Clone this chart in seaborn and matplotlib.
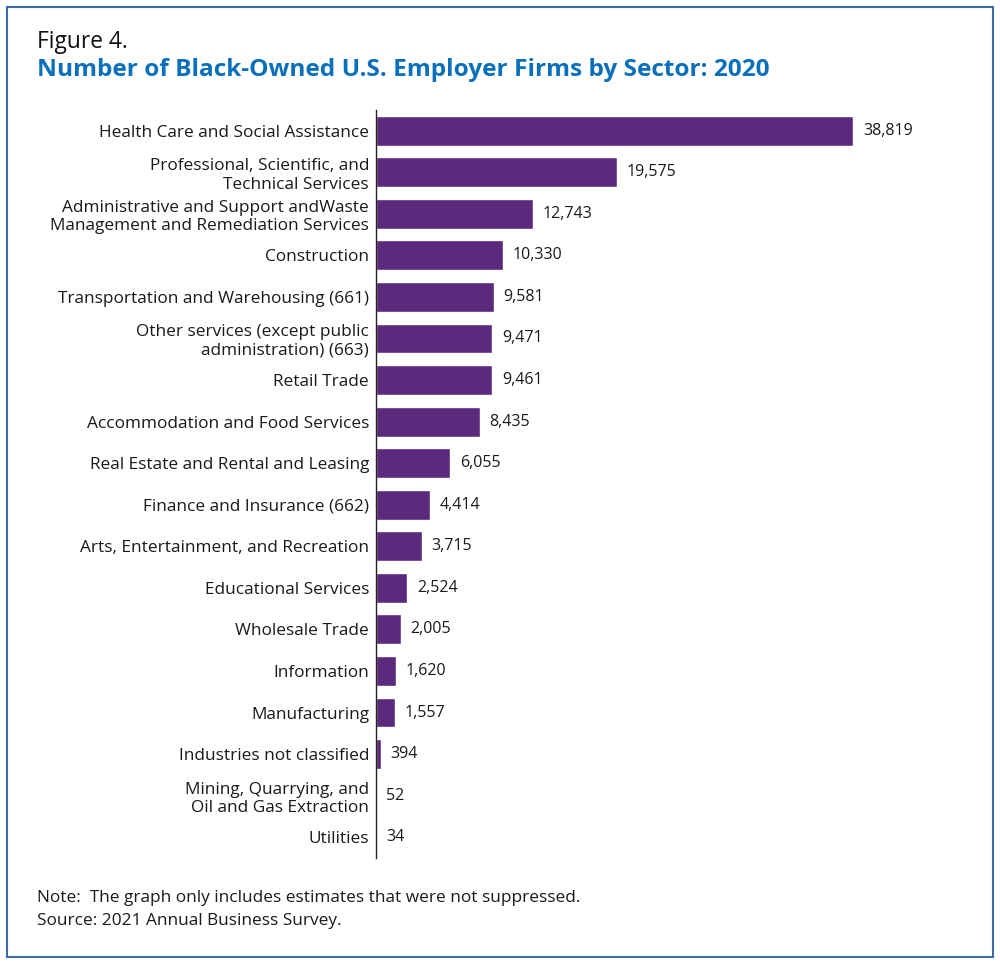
import matplotlib
matplotlib.use("Agg")
import matplotlib.pyplot as plt
import seaborn as sns
import pandas as pd
from matplotlib.patches import Rectangle

sectors = [
    "Health Care and Social Assistance",
    "Professional, Scientific, and\nTechnical Services",
    "Administrative and Support andWaste\nManagement and Remediation Services",
    "Construction",
    "Transportation and Warehousing (661)",
    "Other services (except public\nadministration) (663)",
    "Retail Trade",
    "Accommodation and Food Services",
    "Real Estate and Rental and Leasing",
    "Finance and Insurance (662)",
    "Arts, Entertainment, and Recreation",
    "Educational Services",
    "Wholesale Trade",
    "Information",
    "Manufacturing",
    "Industries not classified",
    "Mining, Quarrying, and\nOil and Gas Extraction",
    "Utilities",
]
firms = [38819, 19575, 12743, 10330, 9581, 9471, 9461, 8435, 6055,
         4414, 3715, 2524, 2005, 1620, 1557, 394, 52, 34]

df = pd.DataFrame({"sector": sectors, "firms": firms})

sns.set_style("white")
plt.rcParams["font.family"] = ["Open Sans", "DejaVu Sans"]

bar_color = "#5c2a7d"
fig = plt.figure(figsize=(10, 9.64), dpi=100)
ax = fig.add_axes([0.376, 0.110, 0.584, 0.776])

sns.barplot(data=df, x="firms", y="sector", color=bar_color, orient="h",
            width=0.72, saturation=1, ax=ax)

labels = [f"{v:,}" for v in firms]
ax.bar_label(ax.containers[0], labels=labels, padding=7, fontsize=11.5,
             color="#1a1a1a")

ax.set_xlim(0, 47500)
ax.set_ylim(17.5, -0.5)
ax.set_xlabel("")
ax.set_ylabel("")
ax.set_xticks([])
for s in ["top", "right", "bottom"]:
    ax.spines[s].set_visible(False)
ax.spines["left"].set_color("#222222")
ax.spines["left"].set_linewidth(1.0)
ax.tick_params(axis="y", length=0, pad=5, labelsize=12.4, labelcolor="#1a1a1a")
for t in ax.get_yticklabels():
    t.set_linespacing(1.2)

fig.text(0.037, 0.950, "Figure 4.", fontsize=16.4, color="#111111",
         ha="left", va="baseline")
fig.text(0.037, 0.921, "Number of Black-Owned U.S. Employer Firms by Sector: 2020",
         fontsize=17.6, fontweight="bold", color="#0a70bc",
         ha="left", va="baseline")

fig.text(0.037, 0.0643, "Note:  The graph only includes estimates that were not suppressed.",
         fontsize=12.4, color="#1a1a1a", ha="left", va="baseline")
fig.text(0.037, 0.0405, "Source: 2021 Annual Business Survey.",
         fontsize=12.4, color="#1a1a1a", ha="left", va="baseline")

fig.patches.append(Rectangle((0.007, 0.0073), 0.986, 0.9855, transform=fig.transFigure,
                             fill=False, edgecolor="#3a6ea5", linewidth=1.5))

fig.savefig("out.png", dpi=100)
